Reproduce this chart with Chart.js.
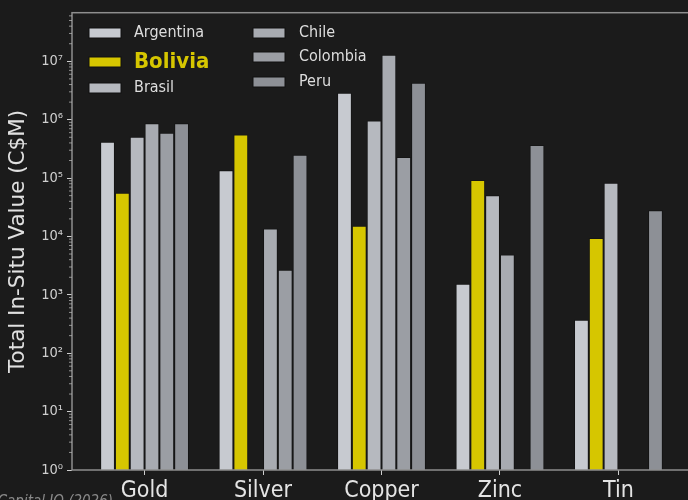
<!DOCTYPE html>
<html>
<head>
<meta charset="utf-8">
<script src="https://cdn.jsdelivr.net/npm/chart.js@4.4.1/dist/chart.umd.min.js"></script>
<style>
  html, body { margin: 0; padding: 0; background: #1b1b1b; }
  #clip { width: 688px; height: 500px; overflow: hidden; position: relative; }
  #wrap { width: 700px; height: 500px; position: absolute; left: 0; top: 0; }
</style>
</head>
<body>
<div id="clip"><div id="wrap"><canvas id="chart"></canvas></div></div>
<script>
// === DATA (C$M, log scale) ===
const minerals = ['Gold', 'Silver', 'Copper', 'Zinc', 'Tin'];
const countries = ['Argentina', 'Bolivia', 'Brasil', 'Chile', 'Colombia', 'Peru'];
const argentina = [420000, 136000, 2900000, 1550, 375];
const bolivia   = [56000, 560000, 15200, 93000, 9400];
const brasil    = [510000, null, 970000, 51000, 83000];
const chile     = [870000, 13700, 13000000, 4900, null];
const colombia  = [600000, 2700, 230000, null, null];
const peru      = [870000, 250000, 4300000, 370000, 28000];
const yTicks = [1, 10, 100, 1000, 10000, 100000, 1000000, 10000000];

const series = [argentina, bolivia, brasil, chile, colombia, peru];
const colors = ['#c7cad0', '#d6c600', '#b6b9bf', '#a8abb1', '#9b9ea4', '#8d9096'];

const CF = "'DejaVu Sans Condensed', 'Liberation Sans Narrow', 'DejaVu Sans', sans-serif";
const sup = { '0': '⁰', '1': '¹', '2': '²', '3': '³', '4': '⁴', '5': '⁵', '6': '⁶', '7': '⁷', '8': '⁸', '9': '⁹' };

const frame = {
  id: 'frame',
  afterDraw(chart) {
    const { ctx, chartArea: a, scales } = chart;
    ctx.save();
    ctx.strokeStyle = '#8e8e8e';
    ctx.lineWidth = 1.5;
    ctx.strokeRect(a.left, a.top, a.right - a.left, a.bottom - a.top);

    // minor log ticks
    const y = scales.y;
    ctx.strokeStyle = '#b0b0b0';
    ctx.lineWidth = 0.8;
    for (let e = 0; e < 8; e++) {
      for (let m = 2; m <= 9; m++) {
        const v = m * Math.pow(10, e);
        if (v > y.max) break;
        const py = y.getPixelForValue(v);
        ctx.beginPath();
        ctx.moveTo(a.left - 3, py);
        ctx.lineTo(a.left, py);
        ctx.stroke();
      }
    }

    // legend, two columns
    const cols = [
      { sx: 89, tx: 134, ys: [33, 62, 88] },
      { sx: 253, tx: 299, ys: [33, 57, 82] }
    ];
    chart.data.datasets.forEach((ds, i) => {
      const c = cols[Math.floor(i / 3)];
      const cy = c.ys[i % 3];
      ctx.fillStyle = ds.backgroundColor;
      ctx.strokeStyle = '#111';
      ctx.lineWidth = 1;
      ctx.fillRect(c.sx, cy - 5, 32, 10);
      ctx.strokeRect(c.sx, cy - 5, 32, 10);
      const hi = ds.label === 'Bolivia';
      ctx.font = hi ? 'bold 22px ' + CF : '16px ' + CF;
      ctx.fillStyle = hi ? '#d6c600' : '#dedede';
      ctx.textAlign = 'left';
      ctx.textBaseline = 'middle';
      ctx.fillText(ds.label, c.tx, cy);
    });

    // source note
    ctx.font = 'italic 15px ' + CF;
    ctx.fillStyle = '#8a8a8a';
    ctx.textAlign = 'right';
    ctx.textBaseline = 'alphabetic';
    ctx.fillText('Source: S&P Capital IQ (2026)', 113, 506);
    ctx.restore();
  }
};

new Chart(document.getElementById('chart'), {
  type: 'bar',
  data: {
    datasets: countries.map((name, i) => ({
      label: name,
      data: series[i].map((v, j) => ({ x: j, y: v })),
      backgroundColor: colors[i],
      borderColor: '#151515',
      borderWidth: 1,
      categoryPercentage: 0.75,
      barPercentage: 1
    }))
  },
  options: {
    responsive: true,
    maintainAspectRatio: false,
    animation: false,
    layout: { padding: { top: 12, right: 9, left: 0, bottom: 0 } },
    plugins: { legend: { display: false }, tooltip: { enabled: false } },
    scales: {
      x: {
        type: 'linear',
        min: -0.6125,
        max: 4.6125,
        offset: false,
        afterBuildTicks: s => { s.ticks = minerals.map((_, i) => ({ value: i })); },
        afterFit: s => { s.height = 30; },
        border: { display: false },
        grid: { drawOnChartArea: false, offset: false, tickLength: 5, tickColor: '#cfcfcf', tickWidth: 1 },
        ticks: {
          color: '#e4e4e4',
          font: { family: CF, size: 23 },
          padding: 2,
          maxRotation: 0,
          autoSkip: false,
          callback: v => minerals[v]
        }
      },
      y: {
        type: 'logarithmic',
        min: 1,
        max: 68000000,
        afterBuildTicks: s => { s.ticks = yTicks.map(v => ({ value: v })); },
        afterFit: s => { s.width = 72; },
        border: { display: false },
        grid: { drawOnChartArea: false, tickLength: 5, tickColor: '#cfcfcf', tickWidth: 1 },
        ticks: {
          color: '#cfcfcf',
          font: { family: CF, size: 14.5 },
          padding: 4,
          autoSkip: false,
          callback: v => '10' + String(Math.round(Math.log10(v))).split('').map(d => sup[d]).join('')
        },
        title: {
          display: true,
          text: 'Total In-Situ Value (C$M)',
          color: '#e0e0e0',
          font: { family: "'DejaVu Sans', sans-serif", size: 21.5 },
          padding: { top: 6, bottom: 0 }
        }
      }
    }
  },
  plugins: [frame]
});
</script>
</body>
</html>
